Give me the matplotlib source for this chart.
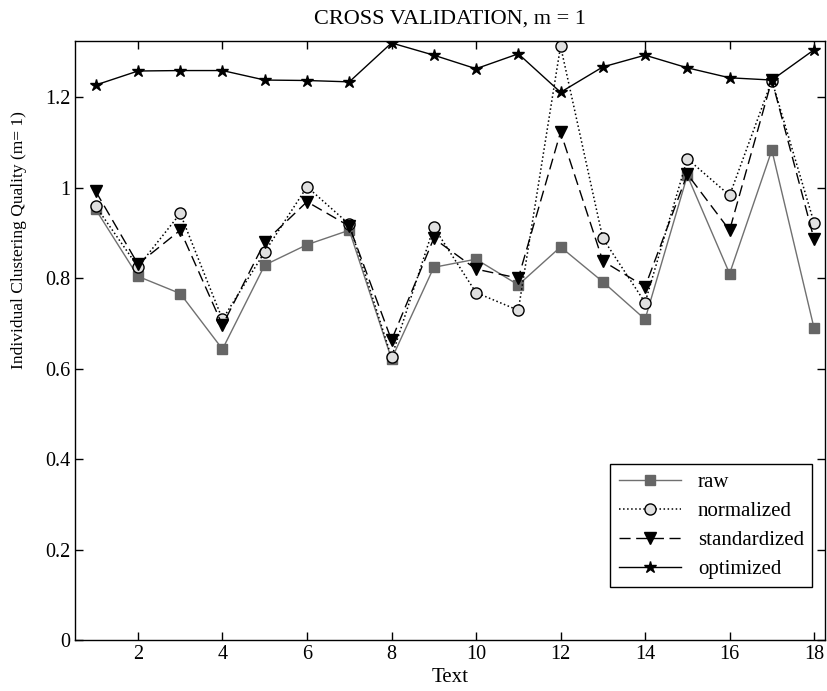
import numpy as np
import matplotlib
matplotlib.use('Agg')
import matplotlib.pyplot as plt

plt.rcParams['font.family'] = ['Liberation Serif', 'DejaVu Serif']
plt.rcParams['font.size'] = 14

# data
text = np.arange(1, 19)
raw = [0.952, 0.804, 0.766, 0.643, 0.829, 0.874, 0.906, 0.621, 0.824,
       0.842, 0.785, 0.869, 0.792, 0.709, 1.027, 0.810, 1.083, 0.689]
normalized = [0.959, 0.825, 0.943, 0.709, 0.858, 1.002, 0.919, 0.625, 0.913,
              0.768, 0.729, 1.313, 0.888, 0.746, 1.064, 0.983, 1.237, 0.922]
standardized = [0.992, 0.831, 0.906, 0.696, 0.880, 0.969, 0.915, 0.663, 0.888,
                0.820, 0.800, 1.123, 0.838, 0.781, 1.030, 0.906, 1.238, 0.886]
optimized = [1.227, 1.258, 1.259, 1.259, 1.238, 1.237, 1.234, 1.320, 1.293,
             1.263, 1.296, 1.211, 1.267, 1.293, 1.265, 1.243, 1.238, 1.305]

fig = plt.figure(figsize=(8.27, 6.91), dpi=100)
ax = fig.add_axes([0.0907, 0.0738, 0.907, 0.8673])

ax.plot(text, raw, '-', color='#707070', lw=1.0, marker='s', ms=7,
        mfc='#666666', mec='#666666', label='raw')
ax.plot(text, normalized, ':', color='black', lw=1.1, marker='o', ms=8,
        mfc='#e0e0e0', mec='black', mew=1.0, label='normalized')
ax.plot(text, standardized, color='black', lw=1.0, dashes=(8, 4), marker='v', ms=9,
        mfc='black', mec='black', label='standardized')
ax.plot(text, optimized, '-', color='black', lw=1.0, marker='*', ms=9,
        mfc='black', mec='black', label='optimized')

ax.set_xlim(0.51, 18.26)
ax.set_ylim(0, 1.325)
ax.set_xticks([2, 4, 6, 8, 10, 12, 14, 16, 18])
ax.set_yticks([0, 0.2, 0.4, 0.6, 0.8, 1.0, 1.2])
ax.set_yticklabels(['0', '0.2', '0.4', '0.6', '0.8', '1', '1.2'])
ax.tick_params(direction='in', top=True, right=True, length=6, width=1.0,
               labelsize=14.5)
for s in ax.spines.values():
    s.set_linewidth(1.0)

ax.set_title('CROSS VALIDATION, m = 1', fontsize=16, pad=12)
ax.set_xlabel('Text', fontsize=15, labelpad=3)
ax.set_ylabel('Individual Clustering Quality (m= 1)', fontsize=12.5)
ax.yaxis.set_label_coords(-0.064, 0.667)

leg = ax.legend(loc='lower right', bbox_to_anchor=(0.983, 0.088), borderaxespad=0,
                fancybox=False, edgecolor='black', framealpha=1, handlelength=3.0,
                labelspacing=0.45, fontsize=15)
leg.get_frame().set_linewidth(1.0)

fig.savefig('out.png', dpi=100)
